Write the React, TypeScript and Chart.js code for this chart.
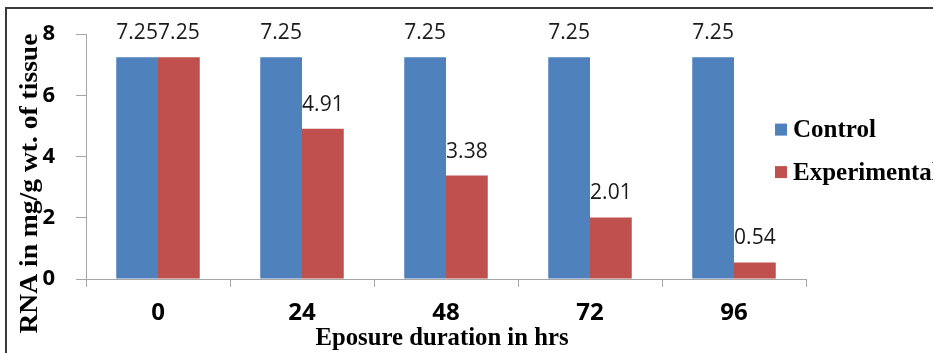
import React, { useEffect, useRef } from 'react';
import { Chart, registerables } from 'chart.js';

Chart.register(...registerables);

const categories = ['0', '24', '48', '72', '96'];
const controlValues = [7.25, 7.25, 7.25, 7.25, 7.25];
const experimentalValues = [7.25, 4.91, 3.38, 2.01, 0.54];
const yTicks = [0, 2, 4, 6, 8];
const seriesNames = ['Control', 'Experimental'];
const seriesColors = ['#4F81BD', '#C0504D'];
const xTitle = 'Eposure duration in hrs';
const yTitle = 'RNA in mg/g wt. of tissue';

const W = 933;
const H = 353;

const decorPlugin = {
  id: 'decor',
  afterDraw(chart: any) {
    const ctx = chart.ctx as CanvasRenderingContext2D;
    const ca = chart.chartArea;
    ctx.save();
    // outer frame (top + left)
    ctx.strokeStyle = '#3a3a3a';
    ctx.lineWidth = 2;
    ctx.beginPath();
    ctx.moveTo(6, H);
    ctx.lineTo(6, 8);
    ctx.lineTo(W, 8);
    ctx.stroke();

    // data labels
    ctx.font = '21px "Open Sans"';
    ctx.fillStyle = '#1a1a1a';
    ctx.textAlign = 'center';
    ctx.textBaseline = 'middle';
    chart.data.datasets.forEach((ds: any, i: number) => {
      const meta = chart.getDatasetMeta(i);
      meta.data.forEach((el: any, j: number) => {
        ctx.fillText(Number(ds.data[j]).toFixed(2), el.x, el.y - 24);
      });
    });

    // legend
    const lx = ca.right - 31;
    const ly0 = (ca.top + ca.bottom) / 2 - 27;
    const gap = 42.5;
    ctx.font = 'bold 25px "Liberation Serif"';
    ctx.textAlign = 'left';
    ctx.textBaseline = 'middle';
    chart.data.datasets.forEach((ds: any, i: number) => {
      const cy = ly0 + i * gap;
      ctx.fillStyle = ds.backgroundColor;
      ctx.fillRect(lx, cy - 6, 12, 12);
      ctx.fillStyle = '#000';
      ctx.fillText(ds.label, lx + 18, cy + 1);
    });

    // y title
    ctx.save();
    ctx.translate(ca.left - 56, (ca.top + ca.bottom) / 2 + 27);
    ctx.rotate(-Math.PI / 2);
    ctx.font = 'bold 25px "Liberation Serif"';
    const yw = ctx.measureText(yTitle).width;
    ctx.scale(300 / yw, 1);
    ctx.textAlign = 'center';
    ctx.textBaseline = 'middle';
    ctx.fillStyle = '#000';
    ctx.fillText(yTitle, 0, 1);
    ctx.restore();

    // x title
    ctx.save();
    ctx.translate((ca.left + ca.right) / 2 - 4, 338);
    ctx.font = 'bold 26px "Liberation Serif"';
    const xw = ctx.measureText(xTitle).width;
    ctx.scale(253 / xw, 1);
    ctx.textAlign = 'center';
    ctx.textBaseline = 'middle';
    ctx.fillStyle = '#000';
    ctx.fillText(xTitle, 0, 0);
    ctx.restore();

    ctx.restore();
  },
};

export default function App() {
  const ref = useRef<HTMLCanvasElement | null>(null);

  useEffect(() => {
    document.body.style.margin = '0';
    const canvas = ref.current;
    if (!canvas) return;
    const chart = new Chart(canvas, {
      type: 'bar',
      data: {
        labels: categories,
        datasets: [
          {
            label: seriesNames[0],
            data: controlValues,
            backgroundColor: seriesColors[0],
            borderWidth: 0,
            categoryPercentage: 0.58,
            barPercentage: 1,
          },
          {
            label: seriesNames[1],
            data: experimentalValues,
            backgroundColor: seriesColors[1],
            borderWidth: 0,
            categoryPercentage: 0.58,
            barPercentage: 1,
          },
        ],
      },
      options: {
        responsive: false,
        animation: false,
        devicePixelRatio: 1,
        layout: { padding: { left: 0, top: 32, right: 127, bottom: 0 } },
        plugins: {
          legend: { display: false },
          title: { display: false },
          tooltip: { enabled: false },
        },
        scales: {
          x: {
            offset: true,
            grid: {
              display: true,
              offset: true,
              drawOnChartArea: false,
              drawTicks: true,
              tickLength: 8,
              color: '#a6a6a6',
            },
            border: { display: true, color: '#a6a6a6' },
            ticks: {
              font: { family: '"Open Sans"', size: 24, weight: 'bold' },
              color: '#000',
              padding: 12,
            },
            afterFit: (s: any) => {
              s.height = H - 279;
            },
          },
          y: {
            min: 0,
            max: 8,
            afterBuildTicks: (s: any) => {
              s.ticks = yTicks.map((v) => ({ value: v }));
            },
            grid: {
              display: true,
              drawOnChartArea: false,
              drawTicks: true,
              tickLength: 10,
              color: '#a6a6a6',
            },
            border: { display: true, color: '#a6a6a6' },
            ticks: {
              font: { family: '"Open Sans"', size: 22, weight: 'bold' },
              color: '#000',
              padding: 21,
            },
            afterFit: (s: any) => {
              s.width = 86;
            },
          },
        },
      },
      plugins: [decorPlugin],
    });
    return () => chart.destroy();
  }, []);

  return (
    <div style={{ position: 'fixed', left: 0, top: 0, width: W, height: H, background: '#fff' }}>
      <canvas ref={ref} width={W} height={H} style={{ width: W, height: H, display: 'block' }} />
    </div>
  );
}
